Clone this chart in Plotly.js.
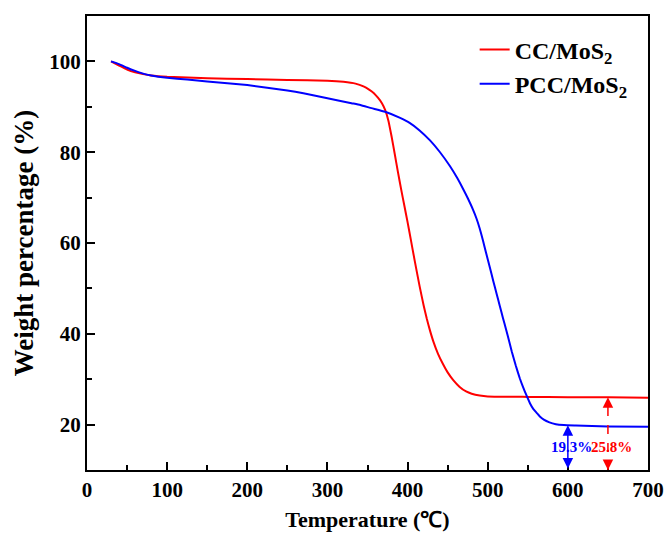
<!DOCTYPE html>
<html>
<head>
<meta charset="utf-8">
<script src="https://cdn.plot.ly/plotly-3.0.1.min.js"></script>
<style>
html,body{margin:0;padding:0;background:#fff;}
#chart{width:671px;height:534px;}
</style>
</head>
<body>
<div id="chart"></div>
<script>
// CC/MoS2 curve
const ccTemp = [30,40,50,60,70,80,100,150,200,250,300,320,335,345,352,358,363,368,372,376,380,384,388,392,396,400,404,409,415,420,424,428,432,438,444,450,457,465,473,480,490,500,550,600,650,700];
const ccWeight = [100,99.1,98.2,97.6,97.2,96.9,96.6,96.3,96.1,95.9,95.75,95.5,95.1,94.5,93.8,93.0,92.0,90.8,89.3,87.0,83.5,79.6,75.6,71.8,68.2,64.6,60.8,56.0,50.5,46.3,43.3,40.7,38.4,35.6,33.4,31.5,29.8,28.3,27.3,26.8,26.4,26.2,26.1,26.05,26.0,25.9];
// PCC/MoS2 curve
const pccTemp = [30,40,50,60,70,80,100,125,150,200,250,270,300,330,341,355,372,390,403,415,428,440,453,462,469,475,482,486,490,494,498,503,507,511,515,519,523,527,530,535,540,544,548,553,557,561,565,570,577,585,595,610,650,700];
const pccWeight = [100,99.4,98.6,97.9,97.3,96.9,96.4,96.0,95.6,94.8,93.6,93.0,91.9,90.8,90.4,89.7,88.9,87.6,86.4,84.8,82.6,80.1,76.9,74.3,72.0,69.9,67.2,65.4,63.2,60.6,57.8,54.4,51.6,48.9,46.2,43.5,40.9,38.2,36.1,33.0,30.2,28.3,26.6,24.6,23.4,22.6,21.8,21.1,20.5,20.1,19.9,19.8,19.6,19.5];
// residue markers
const residueTemps = [600, 650];
const residueLevels = [19.85, 26.0];
const residueLabels = ['19.3%', '25.8%'];
const residueColors = ['#0000ff', '#ff0000'];
const seriesNames = ['CC/MoS<sub>2</sub>', 'PCC/MoS<sub>2</sub>'];
const seriesColors = ['#ff0000', '#0000ff'];
const xTickVals = [0,100,200,300,400,500,600,700];
const yTickVals = [20,40,60,80,100];

const serif = 'Liberation Serif, Times New Roman, serif';

const traces = [
  {x: ccTemp, y: ccWeight, name: seriesNames[0], type: 'scatter', mode: 'lines',
   line: {color: seriesColors[0], width: 2, shape: 'spline', smoothing: 0.4}, legendgroup: 'a'},
  {x: pccTemp, y: pccWeight, name: seriesNames[1], type: 'scatter', mode: 'lines',
   line: {color: seriesColors[1], width: 2, shape: 'spline', smoothing: 0.4}, legendgroup: 'b'}
];

const yBottom = 10;
const shapes = [];
const annotations = [];
// blue: solid double-headed arrow
annotations.push({x: residueTemps[0], y: residueLevels[0], ax: residueTemps[0], ay: yBottom,
  xref: 'x', yref: 'y', axref: 'x', ayref: 'y', showarrow: true, arrowside: 'end+start',
  arrowhead: 2, arrowsize: 1.4, arrowwidth: 1.5, arrowcolor: residueColors[0], text: ''});
// red: dashed shaft with two heads
shapes.push({type: 'line', xref: 'x', yref: 'y', x0: residueTemps[1], x1: residueTemps[1],
  y0: yBottom, y1: residueLevels[1], line: {color: residueColors[1], width: 1.5, dash: 'dash'}});
annotations.push({x: residueTemps[1], y: residueLevels[1], ax: residueTemps[1], ay: residueLevels[1] - 2,
  xref: 'x', yref: 'y', axref: 'x', ayref: 'y', showarrow: true,
  arrowhead: 2, arrowsize: 1.4, arrowwidth: 1.5, arrowcolor: residueColors[1], text: ''});
annotations.push({x: residueTemps[1], y: yBottom, ax: residueTemps[1], ay: yBottom + 2,
  xref: 'x', yref: 'y', axref: 'x', ayref: 'y', showarrow: true,
  arrowhead: 2, arrowsize: 1.4, arrowwidth: 1.5, arrowcolor: residueColors[1], text: ''});
for (let i = 0; i < residueTemps.length; i++) {
  annotations.push({x: residueTemps[i] + 4, y: 15.1, xref: 'x', yref: 'y', showarrow: false,
    text: residueLabels[i], font: {family: serif, size: 15, color: residueColors[i], weight: 'bold'}});
}

const axisCommon = {
  showline: true, linewidth: 2, linecolor: '#000', mirror: true,
  ticks: 'inside', ticklen: 8, tickwidth: 2, tickcolor: '#000',
  showgrid: false, zeroline: false,
  tickfont: {family: serif, size: 21, color: '#000', weight: 'bold'}
};

const layout = {
  width: 671, height: 534,
  margin: {l: 87, r: 23, t: 16, b: 64},
  paper_bgcolor: '#fff', plot_bgcolor: '#fff',
  showlegend: true,
  legend: {x: 0.691, y: 0.975, xanchor: 'left', yanchor: 'top', bgcolor: 'rgba(0,0,0,0)',
    font: {family: serif, size: 24, color: '#000', weight: 'bold'}, tracegroupgap: 0},
  xaxis: Object.assign({}, axisCommon, {
    range: [0, 700], tickvals: xTickVals,
    minor: {ticks: 'inside', ticklen: 5, tickwidth: 2, tickcolor: '#000', dtick: 50},
    title: {text: 'Temperature (\u2103)', standoff: 10, font: {family: serif, size: 22, color: '#000', weight: 'bold'}}
  }),
  yaxis: Object.assign({}, axisCommon, {
    range: [10, 110], tickvals: yTickVals,
    minor: {ticks: 'inside', ticklen: 5, tickwidth: 2, tickcolor: '#000', dtick: 10, tick0: 0},
    title: {text: 'Weight percentage (%)', standoff: 8, font: {family: serif, size: 27, color: '#000', weight: 'bold'}}
  }),
  shapes: shapes,
  annotations: annotations
};

Plotly.newPlot('chart', traces, layout, {displayModeBar: false, staticPlot: true});
</script>
</body>
</html>
